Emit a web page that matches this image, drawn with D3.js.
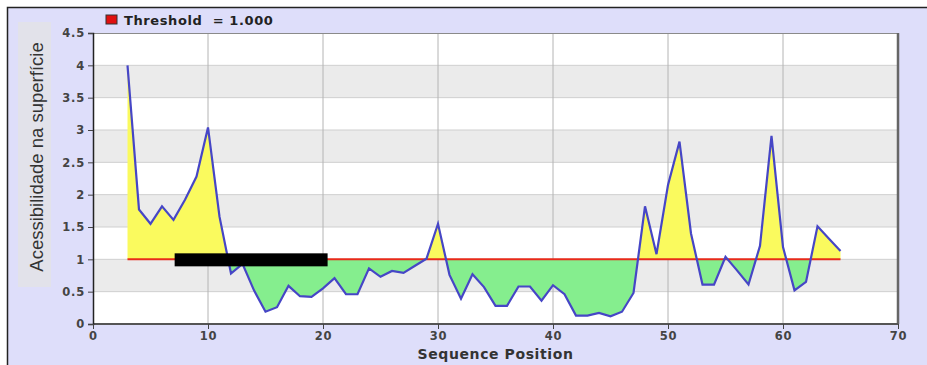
<!DOCTYPE html>
<html>
<head>
<meta charset="utf-8">
<script src="https://cdn.jsdelivr.net/npm/d3@7"></script>
<style>
  html, body { margin: 0; padding: 0; background: #ffffff; }
  svg { display: block; }
</style>
</head>
<body>
<svg id="chart" width="927" height="365"></svg>
<script>
// Surface accessibility profile per sequence position
const positions = [3,4,5,6,7,8,9,10,11,12,13,14,15,16,17,18,19,20,21,22,23,24,25,26,27,28,29,30,31,32,33,34,
  35,36,37,38,39,40,41,42,43,44,45,46,47,48,49,50,51,52,53,54,55,56,57,58,59,60,61,62,63,64,65];
const accessibility = [4.00,1.77,1.55,1.82,1.61,1.92,2.28,3.04,1.66,0.78,0.93,0.52,0.19,0.26,0.59,0.43,0.42,0.55,0.71,0.46,
  0.46,0.86,0.73,0.82,0.79,0.90,1.01,1.55,0.76,0.39,0.77,0.57,0.28,0.28,0.58,0.58,0.36,0.60,0.46,0.13,0.13,0.17,
  0.12,0.19,0.48,1.82,1.08,2.15,2.82,1.40,0.61,0.61,1.04,0.83,0.61,1.21,2.91,1.19,0.52,0.65,1.51,1.32,1.13];
const threshold = 1.0;
const markedRegion = [7.1, 20.4];
const xTicks = [0,10,20,30,40,50,60,70];
const yTicks = [0,0.5,1,1.5,2,2.5,3,3.5,4,4.5];
const legendLabel = "Threshold  = 1.000";
const xTitle = "Sequence Position";
const yTitle = "Acessibilidade na superfície";

const data = positions.map((p, i) => ({ x: p, y: accessibility[i] }));

const svg = d3.select("#chart");
const W = 927, H = 365;
const m = { left: 93, right: 29, top: 33, bottom: 41 };
const pw = W - m.left - m.right, ph = H - m.top - m.bottom;

const x = d3.scaleLinear().domain([0, 70]).range([m.left, m.left + pw]);
const y = d3.scaleLinear().domain([0, 4.5]).range([m.top + ph, m.top]);

// outer panel
svg.append("rect").attr("x", 7.5).attr("y", 7.5).attr("width", W).attr("height", H)
  .attr("fill", "#dedefa").attr("stroke", "#222").attr("stroke-width", 1.5);

// y title box
svg.append("rect").attr("x", 18).attr("y", 22).attr("width", 33).attr("height", 265)
  .attr("fill", "#e2e2ea");
svg.append("text")
  .attr("transform", `translate(${43},${157}) rotate(-90)`)
  .attr("text-anchor", "middle")
  .attr("font-family", "Liberation Sans, Arial, sans-serif")
  .attr("font-size", 18.5).attr("fill", "#333")
  .text(yTitle);

// plot background with alternating bands
svg.append("rect").attr("x", m.left).attr("y", m.top).attr("width", pw).attr("height", ph).attr("fill", "#ffffff");
const bandStarts = d3.range(0.5, 4.5, 1);
svg.append("g").selectAll("rect").data(bandStarts).join("rect")
  .attr("x", m.left).attr("width", pw)
  .attr("y", d => y(d + 0.5)).attr("height", d => y(d) - y(d + 0.5))
  .attr("fill", "#ebebeb");

// grid
svg.append("g").selectAll("line").data(yTicks.filter(v => v > 0 && v < 4.5)).join("line")
  .attr("x1", m.left).attr("x2", m.left + pw)
  .attr("y1", d => y(d)).attr("y2", d => y(d))
  .attr("stroke", "#cfcfcf").attr("stroke-width", 1);
svg.append("g").selectAll("line").data(xTicks.filter(v => v > 0 && v < 70)).join("line")
  .attr("x1", d => x(d)).attr("x2", d => x(d))
  .attr("y1", m.top).attr("y2", m.top + ph)
  .attr("stroke", "#b4b4b4").attr("stroke-width", 1);

// fills between the profile and the threshold
const defs = svg.append("defs");
defs.append("clipPath").attr("id", "above").append("rect")
  .attr("x", m.left).attr("y", m.top).attr("width", pw).attr("height", y(threshold) - m.top);
defs.append("clipPath").attr("id", "below").append("rect")
  .attr("x", m.left).attr("y", y(threshold)).attr("width", pw).attr("height", m.top + ph - y(threshold));

const area = d3.area().x(d => x(d.x)).y0(y(threshold)).y1(d => y(d.y));
svg.append("path").datum(data).attr("d", area).attr("fill", "#fafa5e").attr("clip-path", "url(#above)");
svg.append("path").datum(data).attr("d", area).attr("fill", "#85ee8e").attr("clip-path", "url(#below)");

// threshold line
svg.append("line")
  .attr("x1", x(positions[0])).attr("x2", x(positions[positions.length - 1]))
  .attr("y1", y(threshold)).attr("y2", y(threshold))
  .attr("stroke", "#e82a1a").attr("stroke-width", 2);

// profile line
svg.append("path").datum(data)
  .attr("d", d3.line().x(d => x(d.x)).y(d => y(d.y)))
  .attr("fill", "none").attr("stroke", "#4646c6").attr("stroke-width", 2.2)
  .attr("stroke-linejoin", "miter");

// marked region bar
svg.append("rect")
  .attr("x", x(markedRegion[0])).attr("width", x(markedRegion[1]) - x(markedRegion[0]))
  .attr("y", y(threshold) - 6).attr("height", 13)
  .attr("fill", "#000");

// plot frame
svg.append("line").attr("x1", m.left).attr("x2", m.left + pw).attr("y1", m.top + 0.5).attr("y2", m.top + 0.5)
  .attr("stroke", "#8a8a8a").attr("stroke-width", 1);
svg.append("line").attr("x1", m.left + pw).attr("x2", m.left + pw).attr("y1", m.top).attr("y2", m.top + ph)
  .attr("stroke", "#666").attr("stroke-width", 2.5);
svg.append("line").attr("x1", m.left).attr("x2", m.left + pw).attr("y1", m.top + ph).attr("y2", m.top + ph)
  .attr("stroke", "#555").attr("stroke-width", 2);

// axes
const tickFont = g => g.selectAll("text")
  .attr("font-family", "DejaVu Sans, Verdana, sans-serif")
  .attr("font-weight", "bold").attr("font-size", 11.5).attr("fill", "#444")
  .attr("letter-spacing", 0.8);

const yAxis = svg.append("g").attr("transform", `translate(${m.left},0)`)
  .call(d3.axisLeft(y).tickValues(yTicks).tickFormat(d3.format("")).tickSize(5).tickPadding(3));
yAxis.select(".domain").attr("stroke", "#222").attr("stroke-width", 1.5);
yAxis.selectAll(".tick line").attr("stroke", "#444");
yAxis.call(tickFont);

const xAxis = svg.append("g").attr("transform", `translate(0,${m.top + ph})`)
  .call(d3.axisBottom(x).tickValues(xTicks).tickFormat(d3.format("")).tickSize(5).tickPadding(3));
xAxis.select(".domain").remove();
xAxis.selectAll(".tick line").attr("stroke", "#444");
xAxis.call(tickFont);

// x title
svg.append("text")
  .attr("x", (m.left + m.left + pw) / 2).attr("y", 359)
  .attr("text-anchor", "middle")
  .attr("font-family", "DejaVu Sans, Verdana, sans-serif")
  .attr("font-weight", "bold").attr("font-size", 14).attr("fill", "#333")
  .attr("letter-spacing", 0.6)
  .text(xTitle);

// legend
svg.append("rect").attr("x", 106).attr("y", 15).attr("width", 11).attr("height", 9)
  .attr("fill", "#e01010").attr("stroke", "#333").attr("stroke-width", 1);
svg.append("text").attr("x", 124).attr("y", 25)
  .attr("font-family", "DejaVu Sans, Verdana, sans-serif")
  .attr("font-weight", "bold").attr("font-size", 13).attr("fill", "#222")
  .attr("letter-spacing", 0.6)
  .attr("xml:space", "preserve").style("white-space", "pre")
  .text(legendLabel);
</script>
</body>
</html>
